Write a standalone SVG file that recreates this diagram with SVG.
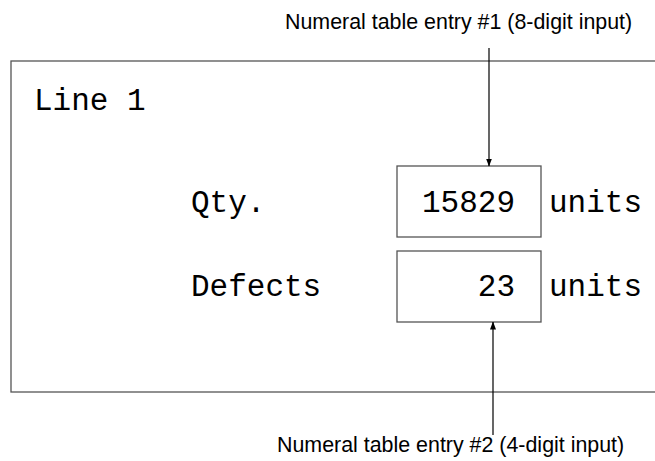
<svg xmlns="http://www.w3.org/2000/svg" width="655" height="461" viewBox="0 0 655 461">
<defs>
<marker id="ah" markerWidth="8" markerHeight="10" refX="7.5" refY="3" orient="auto" markerUnits="userSpaceOnUse" viewBox="0 0 8 6">
<path d="M0,0 L8,3 L0,6 Z" fill="#000"/>
</marker>
<style>
.box{fill:#fff;stroke:#555;stroke-width:1.3}
.mono{font-family:"Liberation Mono","DejaVu Sans Mono",monospace;font-size:31px;fill:#000}
.sans{font-family:"Liberation Sans",Arial,sans-serif;font-size:21.4px;fill:#000}
.conn{stroke:#000;stroke-width:1.2;fill:none}
</style>
</defs>
<rect width="655" height="461" fill="#fff"/>
<g id="panel">
<rect class="box" x="11" y="61" width="660" height="331"/>
<text class="mono" x="34" y="110">Line 1</text>
</g>
<g id="qty">
<text class="mono" x="191" y="212">Qty.</text>
<rect class="box" x="397" y="166" width="144" height="71"/>
<text class="mono" x="515" y="212" text-anchor="end">15829</text>
<text class="mono" x="549" y="212">units</text>
</g>
<g id="defects">
<text class="mono" x="191" y="296">Defects</text>
<rect class="box" x="397" y="251" width="144" height="71"/>
<text class="mono" x="515" y="296" text-anchor="end">23</text>
<text class="mono" x="549" y="296">units</text>
</g>
<g id="label1">
<text class="sans" x="285" y="29">Numeral table entry #1 (8-digit input)</text>
</g>
<g id="label2">
<text class="sans" x="277" y="452">Numeral table entry #2 (4-digit input)</text>
</g>
<g id="connectors">
<line class="conn" x1="489" y1="48" x2="489" y2="166" marker-end="url(#ah)"/>
<line class="conn" x1="493" y1="435" x2="493" y2="322" marker-end="url(#ah)"/>
</g>
</svg>
